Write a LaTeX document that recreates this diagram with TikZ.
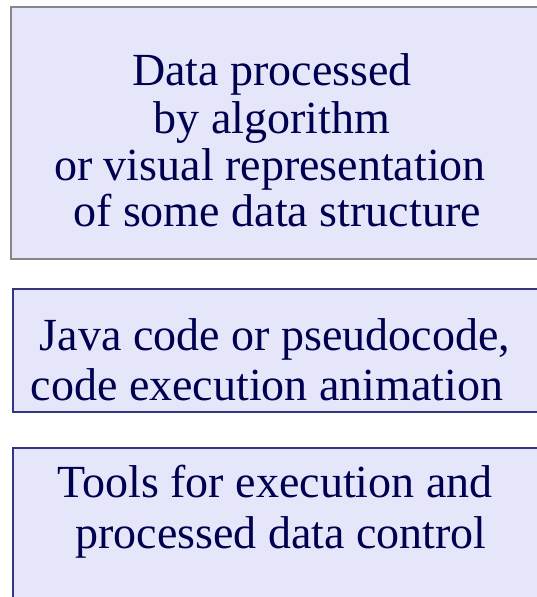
\documentclass[tikz,border=0pt]{standalone}
\usepackage{fontspec}
\setmainfont{Liberation Serif}
\definecolor{boxfill}{RGB}{230,230,250}
\definecolor{navyline}{RGB}{52,52,128}
\definecolor{grayline}{RGB}{135,135,135}
\definecolor{txt}{RGB}{0,0,80}
\begin{document}
\begin{tikzpicture}[x=1pt,y=-1pt,
  box/.style={draw=navyline, fill=boxfill, line width=2.2pt, anchor=north west, inner sep=0pt, outer sep=0pt},
  lbl/.style={anchor=base, text=txt, font=\fontsize{46}{50}\selectfont, inner sep=0pt}]
\useasboundingbox (0,0) rectangle (536,597);
\fill[white] (0,0) rectangle (536,597);
\node[box, draw=grayline, line width=2.6pt, minimum width=549pt, minimum height=252pt] (b1) at (11,7) {};
\node[box, minimum width=547pt, minimum height=123pt] (b2) at (13,289) {};
\node[box, minimum width=547pt, minimum height=200pt] (b3) at (13,448) {};
\node[lbl] (t11) at (272,85) {Data processed};
\node[lbl] (t12) at (272,133) {by algorithm};
\node[lbl] (t13) at (270,180) {or visual representation};
\node[lbl] (t14) at (277,226) {of some data structure};
\node[lbl] (t21) at (275,350) {Java code or pseudocode,};
\node[lbl] (t22) at (267,400) {code execution animation};
\node[lbl] (t31) at (275,497) {Tools for execution and};
\node[lbl] (t32) at (281,548) {processed data control};
\end{tikzpicture}
\end{document}
